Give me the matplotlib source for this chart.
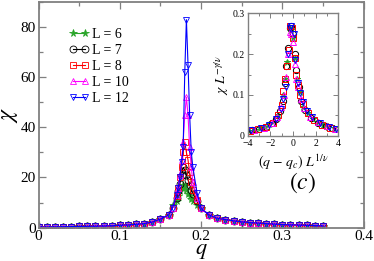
import numpy as np
import matplotlib
matplotlib.use("Agg")
import matplotlib.pyplot as plt
from matplotlib.ticker import MultipleLocator

plt.rcParams["font.family"] = "serif"
plt.rcParams["font.serif"] = ["Liberation Serif", "DejaVu Serif"]
plt.rcParams["mathtext.fontset"] = "stix"

# main panel: chi vs q
q_low = [0.00, 0.01, 0.02, 0.03, 0.04, 0.05, 0.06, 0.07, 0.08, 0.09,
         0.10, 0.11, 0.12, 0.13, 0.14, 0.15, 0.16]
chi_low = [0.2, 0.25, 0.3, 0.35, 0.4, 0.45, 0.5, 0.55, 0.65, 0.75,
           0.9, 1.05, 1.3, 1.6, 2.2, 3.4, 5.0]
q_peak = [0.165, 0.170, 0.172, 0.174, 0.176, 0.178, 0.180, 0.182,
          0.184, 0.186, 0.188, 0.190, 0.195]
chi_peak = {
    6: [9.0, 10.5, 12.5, 14.5, 16.0, 17.0, 16.5, 15.0, 13.5, 12.5, 11.5, 10.5, 9.0],
    7: [8.0, 12.0, 14.5, 17.5, 21.0, 24.0, 23.0, 21.0, 19.0, 17.0, 15.0, 13.5, 10.5],
    8: [8.0, 12.5, 16.0, 20.0, 24.0, 30.0, 34.0, 30.0, 27.0, 22.0, 18.0, 15.0, 11.0],
    10: [8.0, 13.0, 16.0, 21.0, 27.0, 34.0, 45.0, 52.0, 45.0, 32.0, 24.0, 18.0, 12.0],
    12: [8.0, 13.0, 16.0, 20.0, 26.0, 32.0, 62.0, 83.0, 65.0, 45.0, 30.0, 24.0, 14.0],
}
q_high = [0.20, 0.21, 0.22, 0.23, 0.24, 0.25, 0.26, 0.27, 0.28, 0.29,
          0.30, 0.31, 0.32, 0.33, 0.34, 0.35]
chi_high = [7.7, 5.0, 3.7, 3.2, 2.7, 2.3, 2.0, 1.8, 1.6, 1.4,
            1.2, 1.1, 1.0, 0.9, 0.8, 0.7]

# inset: scaled data collapse
inset_x = {
    6: [-3.9, -3.4, -2.9, -2.5, -2.1, -1.7, -1.3, -0.9, -0.7, -0.5, -0.3, -0.15,
        0.0, 0.15, 0.35, 0.6, 0.9, 1.3, 1.8, 2.2, 2.7, 3.1, 3.6],
    7: [-3.6, -3.0, -2.4, -1.9, -1.5, -1.15, -0.9, -0.75, -0.6, -0.45, -0.3, -0.15,
        0.0, 0.15, 0.3, 0.5, 0.75, 1.1, 1.6, 2.2, 2.9, 3.5],
    8: [-3.8, -3.1, -2.4, -1.8, -1.3, -1.0, -0.85, -0.7, -0.55, -0.4, -0.28, -0.12,
        0.0, 0.15, 0.3, 0.45, 0.65, 0.9, 1.3, 1.9, 2.6, 3.3],
    10: [-3.5, -2.6, -1.9, -1.4, -1.05, -0.8, -0.6, -0.45, -0.3, -0.15,
         0.0, 0.15, 0.3, 0.45, 0.7, 1.0, 1.5, 2.2, 3.0, 3.7],
    12: [-3.7, -2.8, -2.1, -1.5, -1.1, -0.85, -0.65, -0.45, -0.3, -0.15,
         0.05, 0.2, 0.4, 0.6, 0.85, 1.2, 1.7, 2.4, 3.2, 3.8],
}
inset_y = {
    6: [0.012, 0.015, 0.018, 0.022, 0.028, 0.036, 0.05, 0.10, 0.14, 0.18, 0.265, 0.26,
        0.24, 0.19, 0.14, 0.108, 0.07, 0.055, 0.04, 0.033, 0.027, 0.022, 0.018],
    7: [0.013, 0.017, 0.022, 0.03, 0.042, 0.06, 0.085, 0.13, 0.17, 0.215, 0.265, 0.27,
        0.25, 0.20, 0.16, 0.12, 0.085, 0.062, 0.044, 0.032, 0.023, 0.018],
    8: [0.012, 0.016, 0.022, 0.032, 0.05, 0.075, 0.11, 0.14, 0.17, 0.21, 0.27, 0.265,
        0.24, 0.19, 0.15, 0.125, 0.10, 0.078, 0.055, 0.038, 0.027, 0.02],
    10: [0.013, 0.02, 0.03, 0.045, 0.07, 0.10, 0.145, 0.20, 0.255, 0.25,
         0.23, 0.175, 0.14, 0.12, 0.09, 0.068, 0.047, 0.033, 0.023, 0.017],
    12: [0.013, 0.018, 0.027, 0.042, 0.065, 0.09, 0.12, 0.20, 0.265, 0.27,
         0.25, 0.185, 0.13, 0.105, 0.082, 0.06, 0.045, 0.031, 0.022, 0.016],
}

sizes = [6, 7, 8, 10, 12]
colors = {6: "#2aa52a", 7: "black", 8: "red", 10: "magenta", 12: "blue"}
markers = {6: "*", 7: "o", 8: "s", 10: "^", 12: "v"}
msize = {6: 5.5, 7: 5, 8: 5, 10: 5, 12: 5}
mfill = {6: "#2aa52a", 7: "none", 8: "none", 10: "none", 12: "none"}

frame_col = "#808080"


def style_axes(ax, lw, tlen):
    for sp in ax.spines.values():
        sp.set_color(frame_col)
        sp.set_linewidth(lw)
    ax.tick_params(which="both", direction="in", top=True, right=True,
                   color=frame_col, width=lw * 0.7)
    ax.tick_params(which="major", length=tlen)
    ax.tick_params(which="minor", length=tlen * 0.55)


fig = plt.figure(figsize=(3.74, 2.61), dpi=100)
ax = fig.add_axes([0.103, 0.128, 0.869, 0.864])

for L in sizes:
    q = q_low + q_peak + q_high
    chi = chi_low + chi_peak[L] + chi_high
    ax.plot(q, chi, color=colors[L], lw=0.8, marker=markers[L], ms=msize[L],
            mfc=mfill[L], mec=colors[L], mew=0.6, label=f"L = {L}")

ax.set_xlim(0, 0.4)
ax.set_ylim(0, 90)
ax.xaxis.set_minor_locator(MultipleLocator(0.05))
ax.yaxis.set_minor_locator(MultipleLocator(10))
ax.set_xticks([0, 0.1, 0.2, 0.3, 0.4])
ax.set_xticklabels(["0", "0.1", "0.2", "0.3", "0.4"])
ax.set_yticks([0, 20, 40, 60, 80])
ax.set_yticklabels(["0", "20", "40", "60", "80"])
style_axes(ax, 1.3, 5)
ax.tick_params(labelsize=11, pad=2)
ax.set_xlabel(r"$q$", fontsize=16, labelpad=-1)
ax.set_ylabel(r"$\chi$", fontsize=17, labelpad=0)
ax.text(0.812, 0.2, r"$(c)$", transform=ax.transAxes, fontsize=17,
        ha="center", va="center")

leg = ax.legend(loc="upper left", bbox_to_anchor=(0.075, 0.91), frameon=False,
                fontsize=10, numpoints=2, handlelength=1.5, handletextpad=0.2,
                labelspacing=0.22, borderaxespad=0)

# inset
ins = fig.add_axes([0.663, 0.480, 0.241, 0.469])
for L in sizes:
    ins.plot(inset_x[L], inset_y[L], ls="none", marker=markers[L],
             ms=msize[L] - 0.5, mfc=mfill[L], mec=colors[L], mew=0.7)
ins.set_xlim(-4, 4)
ins.set_ylim(0, 0.3)
ins.xaxis.set_major_locator(MultipleLocator(2))
ins.xaxis.set_minor_locator(MultipleLocator(1))
ins.yaxis.set_minor_locator(MultipleLocator(0.05))
ins.set_yticks([0, 0.1, 0.2, 0.3])
ins.set_yticklabels(["0", "0.1", "0.2", "0.3"])
style_axes(ins, 1.0, 3.5)
ins.tick_params(labelsize=7, pad=1.5)
ins.tick_params(axis="y", pad=2.5)
ins.tick_params(axis="x", pad=2.5)
ins.set_xlabel(r"$(q\ \mathrm{-}\ q_c)\ L^{1/\nu}$", fontsize=10, labelpad=3)
ins.set_ylabel(r"$\chi\ L^{-\gamma/\nu}$", fontsize=10, labelpad=1)

fig.savefig("out.png", dpi=100)
